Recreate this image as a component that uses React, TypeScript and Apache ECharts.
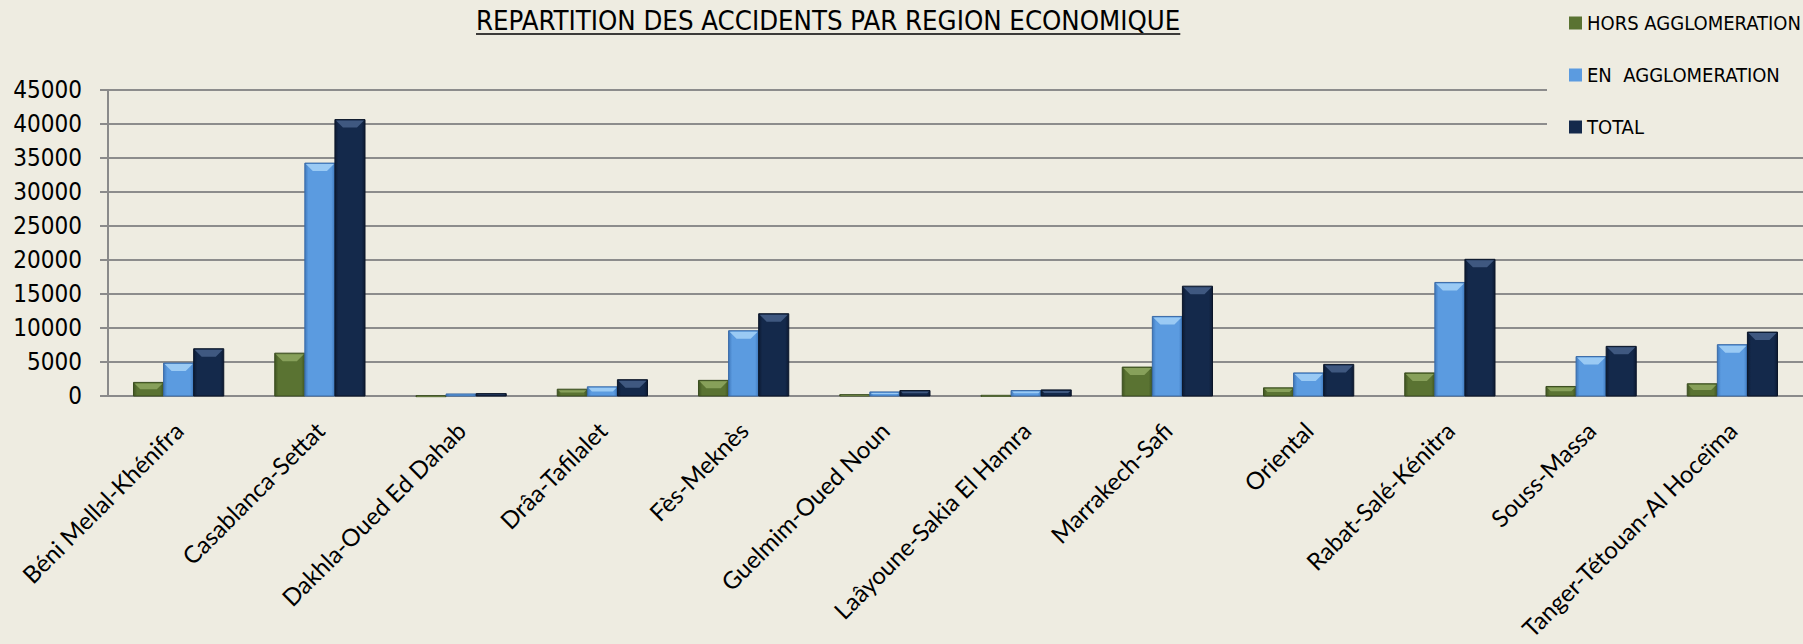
import React, { useEffect, useRef } from "react";
import * as echarts from "echarts";

const categories = [
  "Béni Mellal-Khénifra",
  "Casablanca-Settat",
  "Dakhla-Oued Ed Dahab",
  "Drâa-Tafilalet",
  "Fès-Meknès",
  "Guelmim-Oued Noun",
  "Laâyoune-Sakia El Hamra",
  "Marrakech-Safi",
  "Oriental",
  "Rabat-Salé-Kénitra",
  "Souss-Massa",
  "Tanger-Tétouan-Al Hoceïma",
];
const horsAgglomeration = [2000, 6300, 50, 1000, 2300, 200, 100, 4250, 1200, 3400, 1400, 1800];
const enAgglomeration = [4850, 34250, 300, 1350, 9600, 600, 800, 11700, 3400, 16700, 5800, 7550];
const total = [6950, 40650, 350, 2400, 12100, 800, 900, 16150, 4650, 20100, 7300, 9400];
const seriesNames = ["HORS AGGLOMERATION", "EN  AGGLOMERATION", "TOTAL"];
const titleText = "REPARTITION DES ACCIDENTS PAR REGION ECONOMIQUE";

const NARROW = '"Liberation Sans Narrow", "DejaVu Sans Condensed", "Liberation Sans", sans-serif';

const palettes = [
  { body: "#5a7332", edge: "#3f5421", hi: "#8fa862", border: "#3a4d1f" },
  { body: "#5b9be0", edge: "#3f79bd", hi: "#a6d2f7", border: "#3a6aa6" },
  { body: "#14294b", edge: "#0c1a33", hi: "#46608a", border: "#0a1528" },
];

function makeRender(k: number) {
  const p = palettes[k];
  return (params: any, api: any) => {
    const idx = api.value(0);
    const v = api.value(1);
    const top = api.coord([idx, v]);
    const base = api.coord([idx, 0]);
    const band = api.size([1, 0])[0];
    const bw = band * 0.213;
    const x0 = top[0] + (k - 1) * bw - bw / 2;
    const y0 = top[1];
    const h = Math.max(base[1] - top[1], 1);
    const bev = Math.min(8, h / 2, bw / 2);
    const grad = new echarts.graphic.LinearGradient(0, 0, 1, 0, [
      { offset: 0, color: p.edge },
      { offset: 0.12, color: p.body },
      { offset: 0.88, color: p.body },
      { offset: 1, color: p.edge },
    ]);
    return {
      type: "group",
      children: [
        {
          type: "rect",
          shape: { x: x0, y: y0, width: bw, height: h },
          style: { fill: grad, stroke: p.border, lineWidth: 1 },
        },
        {
          type: "polygon",
          shape: {
            points: [
              [x0 + 1, y0 + 1],
              [x0 + bw - 1, y0 + 1],
              [x0 + bw - bev, y0 + bev],
              [x0 + bev, y0 + bev],
            ],
          },
          style: { fill: p.hi, opacity: 0.85 },
        },
      ],
    };
  };
}

export default function App() {
  const ref = useRef<HTMLDivElement>(null);
  useEffect(() => {
    if (!ref.current) return;
    const chart = echarts.init(ref.current, null, { renderer: "svg" });
    const canvas = document.createElement("canvas");
    const ctx = canvas.getContext("2d")!;
    const titleSize = 27.3;
    ctx.font = `${titleSize}px ${NARROW}`;
    const tw = ctx.measureText(titleText).width;
    const tx = 476;
    const datasets = [horsAgglomeration, enAgglomeration, total];
    chart.setOption({
      animation: false,
      backgroundColor: "#EEECE1",
      grid: { left: 108, right: 0, top: 90, bottom: 248, containLabel: false, outerBoundsMode: "none" },
      legend: {
        orient: "vertical",
        left: 1547,
        top: 0,
        backgroundColor: "#EEECE1",
        padding: [13, 10, 12, 22],
        itemWidth: 13,
        itemHeight: 13,
        itemGap: 32,
        icon: "rect",
        textStyle: { fontSize: 20, lineHeight: 20, fontFamily: NARROW, color: "#000" },
        data: seriesNames,
      },
      graphic: [
        {
          type: "text",
          x: tx,
          y: 7,
          style: { text: titleText, fontSize: titleSize, fontFamily: NARROW, fill: "#000", verticalAlign: "top" },
        },
        {
          type: "line",
          shape: { x1: tx, y1: 34, x2: tx + tw, y2: 34 },
          style: { stroke: "#000", lineWidth: 1.5 },
        },
      ],
      xAxis: {
        type: "category",
        data: categories,
        axisLine: { lineStyle: { color: "#8a8a8a", width: 2 } },
        axisTick: { length: 8, lineStyle: { color: "#8a8a8a", width: 1.5 } },
        axisLabel: {
          rotate: 45,
          interval: 0,
          margin: 30,
          fontSize: 24,
          fontFamily: 'Lato, "Open Sans", sans-serif',
          color: "#000",
        },
      },
      yAxis: {
        type: "value",
        min: 0,
        max: 45000,
        interval: 5000,
        axisLine: { show: true, lineStyle: { color: "#8a8a8a", width: 2 } },
        axisTick: { show: true, length: 8, lineStyle: { color: "#8a8a8a", width: 2 } },
        splitLine: { lineStyle: { color: "#8c8c8c", width: 2 } },
        axisLabel: {
          fontSize: 24,
          fontFamily: NARROW,
          color: "#000",
          margin: 26,
          formatter: (v: number) => String(v),
        },
      },
      series: datasets.map((d, k) => ({
        type: "custom",
        name: seriesNames[k],
        renderItem: makeRender(k),
        itemStyle: { color: palettes[k].body },
        encode: { x: 0, y: 1 },
        data: d.map((v, i) => [i, v]),
        z: 3,
      })),
    });
    return () => chart.dispose();
  }, []);
  return (
    <div
      ref={ref}
      style={{ position: "fixed", left: 0, top: 0, width: 1803, height: 644 }}
    />
  );
}
